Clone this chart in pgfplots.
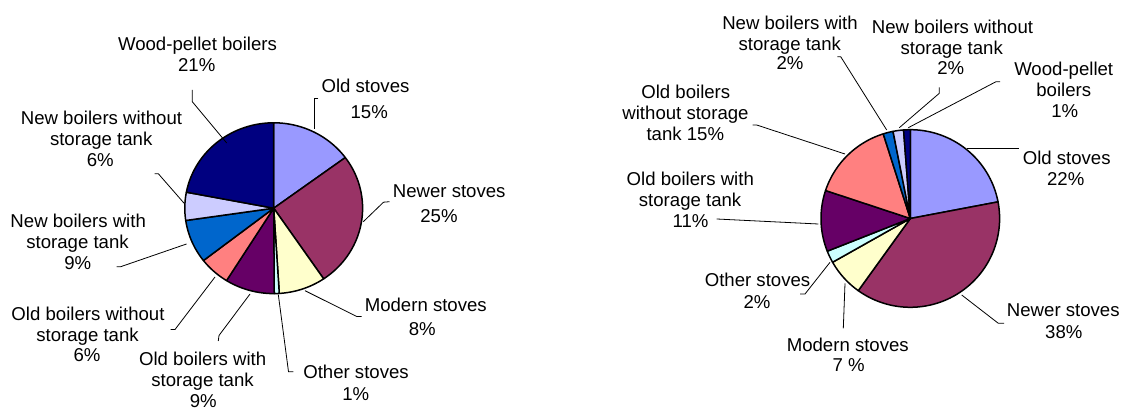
\documentclass[border=0pt]{standalone}
\usepackage{fontspec}
\setmainfont{Liberation Sans}
\usepackage{pgfplots}
\pgfplotsset{compat=1.18}
\definecolor{cOld}{HTML}{9999FF}
\definecolor{cNewer}{HTML}{993366}
\definecolor{cModern}{HTML}{FFFFCC}
\definecolor{cOther}{HTML}{CCFFFF}
\definecolor{cOBwith}{HTML}{660066}
\definecolor{cOBwithout}{HTML}{FF8080}
\definecolor{cNBwith}{HTML}{0066CC}
\definecolor{cNBwithout}{HTML}{CCCCFF}
\definecolor{cWood}{HTML}{000080}

% one label line: centre x, baseline y (pixel coordinates), text
\newcommand\lbl[3]{\node[anchor=base, inner sep=0pt, font=\fontsize{18.6}{21.4}\selectfont] at (axis cs:#1,#2) {#3};}

% one pie slice: cx, cy, rx, ry, share (%), colour; slices run clockwise from 12 o'clock
\gdef\cumpct{0}
\newcommand\pieslice[6]{%
  \pgfmathsetmacro\tA{90-3.6*\cumpct}%
  \pgfmathsetmacro\tB{90-3.6*(\cumpct+#5)}%
  \edef\doslice{\noexpand\addplot[draw=black, line width=1.5pt, line join=round, fill=#6, domain=\tB:\tA, samples=80, variable=\noexpand\t] ({#1+#3*cos(\noexpand\t)}, {#2-#4*sin(\noexpand\t)}) -- (axis cs:#1,#2) -- cycle;}%
  \doslice
  \pgfmathsetmacro\newcum{\cumpct+#5}%
  \xdef\cumpct{\newcum}%
}

\begin{document}
\begin{tikzpicture}
\useasboundingbox (0,0) rectangle (1121pt,411pt);
\begin{axis}[
  at={(0,0)}, anchor=south west,
  width=1121pt, height=411pt, scale only axis,
  xmin=0, xmax=1121, ymin=0, ymax=411, y dir=reverse,
  hide axis, clip=false,
]
% ---------------- left pie ----------------
\gdef\cumpct{0}
\pieslice{273.7}{208.2}{88.9}{85.4}{14.9}{cOld}
\pieslice{273.7}{208.2}{88.9}{85.4}{25.6}{cNewer}
\pieslice{273.7}{208.2}{88.9}{85.4}{8.5}{cModern}
\pieslice{273.7}{208.2}{88.9}{85.4}{0.9}{cOther}
\pieslice{273.7}{208.2}{88.9}{85.4}{9.0}{cOBwith}
\pieslice{273.7}{208.2}{88.9}{85.4}{5.6}{cOBwithout}
\pieslice{273.7}{208.2}{88.9}{85.4}{8.2}{cNBwith}
\pieslice{273.7}{208.2}{88.9}{85.4}{5.3}{cNBwithout}
\pieslice{273.7}{208.2}{88.9}{85.4}{22.0}{cWood}

% ---------------- right pie ----------------
\gdef\cumpct{0}
\pieslice{910.3}{218.5}{89.3}{88.8}{22.0}{cOld}
\pieslice{910.3}{218.5}{89.3}{88.8}{37.9}{cNewer}
\pieslice{910.3}{218.5}{89.3}{88.8}{6.9}{cModern}
\pieslice{910.3}{218.5}{89.3}{88.8}{2.2}{cOther}
\pieslice{910.3}{218.5}{89.3}{88.8}{11.1}{cOBwith}
\pieslice{910.3}{218.5}{89.3}{88.8}{15.0}{cOBwithout}
\pieslice{910.3}{218.5}{89.3}{88.8}{1.8}{cNBwith}
\pieslice{910.3}{218.5}{89.3}{88.8}{1.9}{cNBwithout}
\pieslice{910.3}{218.5}{89.3}{88.8}{1.2}{cWood}

% ---------------- leader lines, left ----------------
\draw[line width=0.8pt] (192.3,90) -- (192.3,101.7) -- (226.7,143);
\draw[line width=0.8pt] (318.3,98.3) -- (314,98.3) -- (314,129.3);
\draw[line width=0.8pt] (389.5,201.7) -- (383.5,202.2) -- (363.3,221.7);
\draw[line width=0.8pt] (361.7,316.5) -- (356.7,316.5) -- (305,290.7);
\draw[line width=0.8pt] (293.3,371.7) -- (288.5,371.7) -- (278.3,294.5);
\draw[line width=0.8pt] (218.3,341) -- (219,335.5) -- (250,294);
\draw[line width=0.8pt] (170.7,329.5) -- (175,329.5) -- (215,277);
\draw[line width=0.8pt] (116.7,266.7) -- (120.7,266.7) -- (186.5,244);
\draw[line width=0.8pt] (154.5,173.7) -- (158.3,173.7) -- (184.5,203.7);

% ---------------- leader lines, right ----------------
\draw[line width=0.8pt] (837.3,56.7) -- (840.7,56.7) -- (886.7,130);
\draw[line width=0.8pt] (939.3,87.3) -- (939.3,93.3) -- (899.3,127.7);
\draw[line width=0.8pt] (1000,81.7) -- (996,81.7) -- (908.3,127.7);
\draw[line width=0.8pt] (752.7,125) -- (756.7,125) -- (845,154);
\draw[line width=0.8pt] (716.7,219) -- (818.3,224);
\draw[line width=0.8pt] (800,294) -- (805,294) -- (830,262.3);
\draw[line width=0.8pt] (843.3,328.3) -- (845,283.3);
\draw[line width=0.8pt] (1004,323.3) -- (998.3,323.3) -- (961.7,295);
\draw[line width=0.8pt] (967.3,148.3) -- (1019.3,148.3);

% ---------------- labels, left ----------------
\lbl{197.5}{50.4}{Wood-pellet boilers}
\lbl{196.7}{71.7}{21\%}
\lbl{365.5}{93}{Old stoves}
\lbl{369.2}{118.3}{15\%}
\lbl{449.2}{197.3}{Newer stoves}
\lbl{439}{222.7}{25\%}
\lbl{425.8}{311.7}{Modern stoves}
\lbl{422.2}{335}{8\%}
\lbl{356}{378.8}{Other stoves}
\lbl{355.8}{400}{1\%}
\lbl{202.7}{365.3}{Old boilers with}
\lbl{202.5}{386.6}{storage tank}
\lbl{203.3}{407.3}{9\%}
\lbl{88}{320.7}{Old boilers without}
\lbl{87.5}{341.2}{storage tank}
\lbl{87}{361.7}{6\%}
\lbl{78.2}{227.7}{New boilers with}
\lbl{77.5}{248.5}{storage tank}
\lbl{77.8}{269.3}{9\%}
\lbl{101.5}{125}{New boilers without}
\lbl{101.2}{146}{storage tank}
\lbl{100.3}{166.7}{6\%}

% ---------------- labels, right ----------------
\lbl{790}{30}{New boilers with}
\lbl{789.8}{50.5}{storage tank}
\lbl{790}{70}{2\%}
\lbl{952.5}{33.3}{New boilers without}
\lbl{951.7}{54.5}{storage tank}
\lbl{950.7}{75}{2\%}
\lbl{1063.7}{75.5}{Wood-pellet}
\lbl{1063.7}{96.7}{boilers}
\lbl{1064.8}{117.3}{1\%}
\lbl{685.8}{98.3}{Old boilers}
\lbl{685.5}{119.5}{without storage}
\lbl{685.3}{140.3}{tank 15\%}
\lbl{690.3}{186}{Old boilers with}
\lbl{690.1}{207}{storage tank}
\lbl{690.5}{227.7}{11\%}
\lbl{757.5}{286.7}{Other stoves}
\lbl{757}{308.3}{2\%}
\lbl{847.8}{351.7}{Modern stoves}
\lbl{848.6}{371.7}{7 \%}
\lbl{1063.3}{316.7}{Newer stoves}
\lbl{1063.8}{338.3}{38\%}
\lbl{1066.7}{165}{Old stoves}
\lbl{1065.7}{186}{22\%}
\end{axis}
\end{tikzpicture}
\end{document}
